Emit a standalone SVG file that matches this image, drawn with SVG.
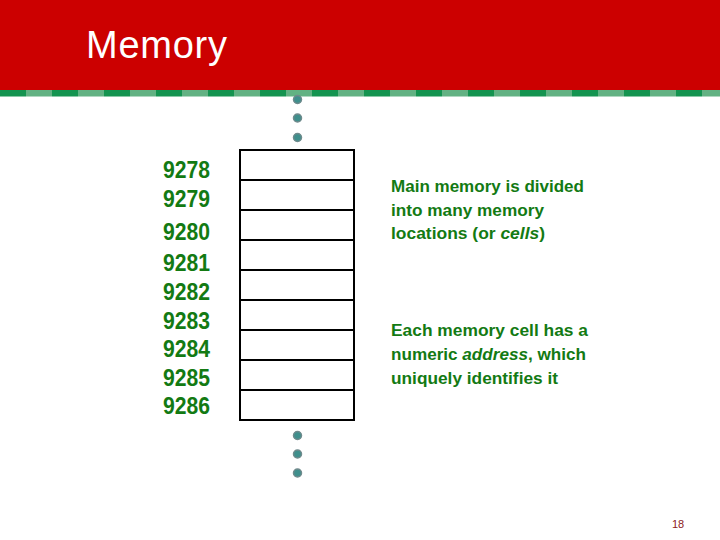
<svg xmlns="http://www.w3.org/2000/svg" width="720" height="540" viewBox="0 0 720 540">
<defs>
<style>
.num{font-family:"Liberation Sans",Arial,sans-serif;font-weight:bold;font-size:23px;fill:#137a13}
.txt{font-family:"Liberation Sans",Arial,sans-serif;font-weight:bold;font-size:17px;fill:#137a13}
.cell{fill:#fff;stroke:#000;stroke-width:2}
.dot{fill:#3f8f8c;stroke:#6f8a8c;stroke-width:1.5}
</style>
<pattern id="dash" x="0" y="0" width="52" height="7" patternUnits="userSpaceOnUse">
<rect x="0" y="0" width="26" height="7" fill="#149450"/>
<rect x="26" y="0" width="26" height="7" fill="#62b283"/>
</pattern>
</defs>
<rect width="720" height="540" fill="#fff"/>
<g id="header">
<rect x="0" y="0" width="720" height="90" fill="#cc0000"/>
<rect x="0" y="90" width="720" height="6.5" fill="url(#dash)"/>
<text x="86" y="58" font-family="Liberation Sans,Arial,sans-serif" font-size="38" fill="#fff" textLength="141">Memory</text>
</g>
<g id="dots-top">
<circle class="dot" cx="297.5" cy="99.5" r="4"/>
<circle class="dot" cx="297.5" cy="118" r="4"/>
<circle class="dot" cx="297.5" cy="137.5" r="4"/>
</g>
<g id="cells">
<rect class="cell" x="240" y="150" width="114" height="30"/>
<rect class="cell" x="240" y="180" width="114" height="30"/>
<rect class="cell" x="240" y="210" width="114" height="30"/>
<rect class="cell" x="240" y="240" width="114" height="30"/>
<rect class="cell" x="240" y="270" width="114" height="30"/>
<rect class="cell" x="240" y="300" width="114" height="30"/>
<rect class="cell" x="240" y="330" width="114" height="30"/>
<rect class="cell" x="240" y="360" width="114" height="30"/>
<rect class="cell" x="240" y="390" width="114" height="30"/>
</g>
<g id="dots-bottom">
<circle class="dot" cx="297.5" cy="435.5" r="4"/>
<circle class="dot" cx="297.5" cy="454" r="4"/>
<circle class="dot" cx="297.5" cy="473" r="4"/>
</g>
<g id="addresses">
<text class="num" x="163" y="178" textLength="47" lengthAdjust="spacingAndGlyphs">9278</text>
<text class="num" x="163" y="207" textLength="47" lengthAdjust="spacingAndGlyphs">9279</text>
<text class="num" x="163" y="240" textLength="47" lengthAdjust="spacingAndGlyphs">9280</text>
<text class="num" x="163" y="271" textLength="47" lengthAdjust="spacingAndGlyphs">9281</text>
<text class="num" x="163" y="300" textLength="47" lengthAdjust="spacingAndGlyphs">9282</text>
<text class="num" x="163" y="329" textLength="47" lengthAdjust="spacingAndGlyphs">9283</text>
<text class="num" x="163" y="357" textLength="47" lengthAdjust="spacingAndGlyphs">9284</text>
<text class="num" x="163" y="386" textLength="47" lengthAdjust="spacingAndGlyphs">9285</text>
<text class="num" x="163" y="414" textLength="47" lengthAdjust="spacingAndGlyphs">9286</text>
</g>
<g id="note1">
<text class="txt" x="391" y="192" textLength="193" lengthAdjust="spacingAndGlyphs">Main memory is divided</text>
<text class="txt" x="391" y="216" textLength="153" lengthAdjust="spacingAndGlyphs">into many memory</text>
<text class="txt" x="391" y="239" textLength="154" lengthAdjust="spacingAndGlyphs">locations (or <tspan font-style="italic">cells</tspan>)</text>
</g>
<g id="note2">
<text class="txt" x="391" y="336" textLength="197" lengthAdjust="spacingAndGlyphs">Each memory cell has a</text>
<text class="txt" x="391" y="360" textLength="195" lengthAdjust="spacingAndGlyphs">numeric <tspan font-style="italic">address</tspan>, which</text>
<text class="txt" x="391" y="384" textLength="167" lengthAdjust="spacingAndGlyphs">uniquely identifies it</text>
</g>
<text x="672" y="528" font-family="Liberation Sans,Arial,sans-serif" font-size="11" fill="#8b1a1a">18</text>
</svg>
